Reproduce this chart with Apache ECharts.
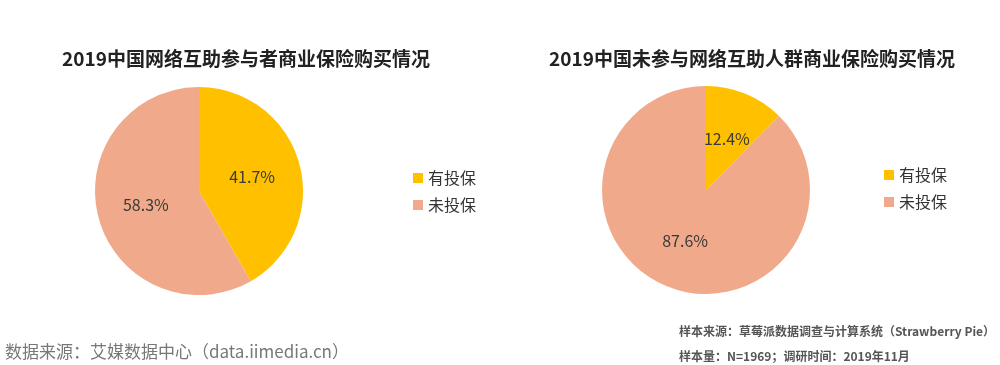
<!DOCTYPE html>
<html>
<head>
<meta charset="utf-8">
<script src="https://cdn.jsdelivr.net/npm/echarts@6/dist/echarts.min.js"></script>
<style>
html,body{margin:0;padding:0;background:#fff;}
#main{width:1000px;height:365px;}
</style>
</head>
<body>
<div id="main"></div>
<script>
const categories = ['有投保', '未投保'];
const participants = [41.7, 58.3];
const nonParticipants = [12.4, 87.6];
const titles = ['2019中国网络互助参与者商业保险购买情况', '2019中国未参与网络互助人群商业保险购买情况'];
const sourceText = '数据来源：艾媒数据中心（data.iimedia.cn）';
const noteLines = ['样本来源：草莓派数据调查与计算系统（Strawberry Pie）', '样本量：N=1969；调研时间：2019年11月'];

const FONT = '"Noto Sans CJK SC", "Noto Sans", sans-serif';
const colors = ['#FFC000', '#F0A98A'];

function toData(vals) {
  return categories.map((c, i) => ({ name: c, value: vals[i] }));
}

function pie(vals, center) {
  return {
    type: 'pie',
    radius: 104,
    center: center,
    startAngle: 90,
    clockwise: true,
    silent: true,
    label: {
      show: true,
      position: 'inside',
      formatter: p => p.value.toFixed(1) + '%',
      fontFamily: FONT,
      fontSize: 16,
      color: '#3a3a3a'
    },
    labelLine: { show: false },
    itemStyle: { borderWidth: 0 },
    data: toData(vals)
  };
}

const chart = echarts.init(document.getElementById('main'), null, { renderer: 'canvas' });
const legendCommon = {
  orient: 'vertical',
  icon: 'rect',
  itemWidth: 10,
  itemHeight: 10,
  itemGap: 11,
  selectedMode: false,
  data: categories,
  textStyle: { fontFamily: FONT, fontSize: 16, color: '#333' }
};
chart.setOption({
  animation: false,
  color: colors,
  title: [
    { text: titles[0], left: 241, top: 44, textAlign: 'center',
      textStyle: { fontFamily: FONT, fontSize: 19, fontWeight: 'bold', color: '#222' } },
    { text: titles[1], left: 747, top: 44, textAlign: 'center',
      textStyle: { fontFamily: FONT, fontSize: 19, fontWeight: 'bold', color: '#222' } },
    { text: sourceText, left: 0, top: 338,
      textStyle: { fontFamily: FONT, fontSize: 17, fontWeight: 'normal', color: '#777' } },
    { text: noteLines[0], left: 674, top: 320,
      textStyle: { fontFamily: FONT, fontSize: 12, fontWeight: 'bold', color: '#555' } },
    { text: noteLines[1], left: 674, top: 345,
      textStyle: { fontFamily: FONT, fontSize: 12, fontWeight: 'bold', color: '#555' } }
  ],
  legend: [
    Object.assign({ left: 408, top: 165 }, legendCommon),
    Object.assign({ left: 879, top: 162 }, legendCommon)
  ],
  series: [
    pie(participants, [199, 191]),
    pie(nonParticipants, [706, 190])
  ]
});
</script>
</body>
</html>
